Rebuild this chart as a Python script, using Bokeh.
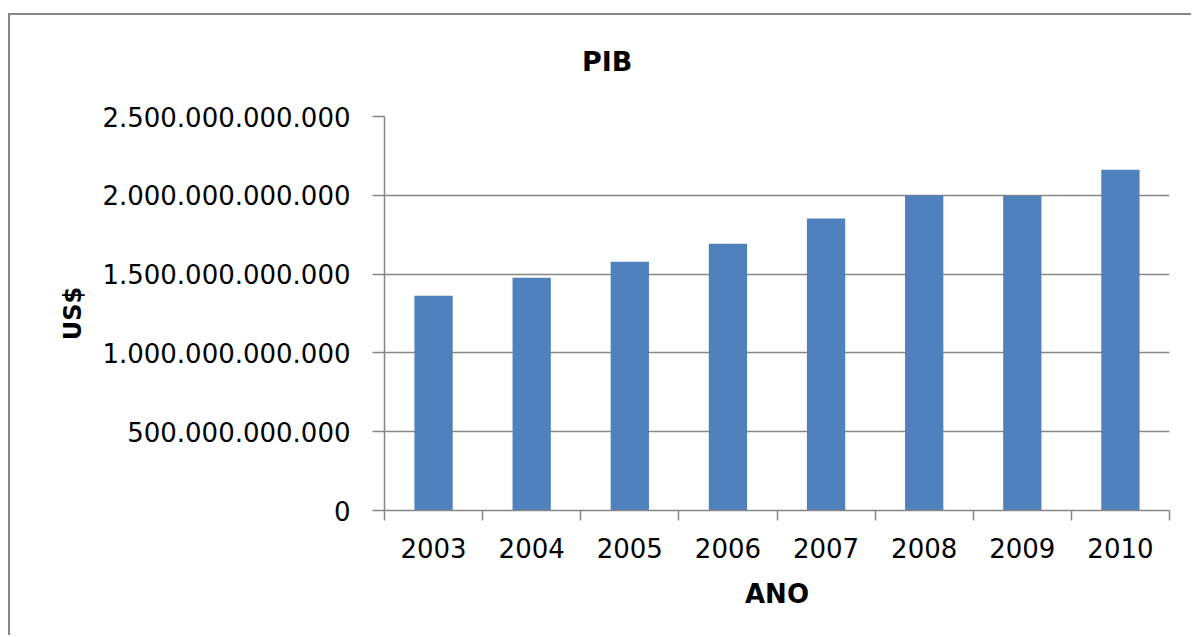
from bokeh.plotting import figure
from bokeh.models import FixedTicker, Range1d, LinearAxis
from bokeh.embed import file_html
from bokeh.resources import INLINE

# ---- data ----
title_text = "PIB"
years = ["2003", "2004", "2005", "2006", "2007", "2008", "2009", "2010"]
pib = [1.363e12, 1.477e12, 1.579e12, 1.693e12, 1.852e12, 1.998e12, 1.995e12, 2.162e12]
y_ticks = [0, 500000000000, 1000000000000, 1500000000000, 2000000000000, 2500000000000]
y_tick_labels = [f"{v:,}".replace(",", ".") for v in y_ticks]

GRAY = "#868686"
BAR = "#4F81BD"
FONT = "DejaVu Sans"

centers = [i + 0.5 for i in range(len(years))]
bounds = list(range(len(years) + 1))
title_pos = 2.27  # horizontal position of the chart title (chart-area centre)

p = figure(
    width=1183, height=622,
    output_backend="svg", toolbar_location=None,
    x_range=Range1d(0, len(years)), y_range=Range1d(0, y_ticks[-1]),
    min_border_left=374, min_border_right=24, min_border_top=101, min_border_bottom=127,
)
p.styles = {
    "border-left": "2px solid #878787",
    "border-top": "2px solid #878787",
    "margin-left": "8px",
    "margin-top": "13px",
}

p.vbar(x=centers, top=pib, width=0.39, bottom=0, fill_color=BAR, line_color=None)

xa = p.below[0]
ya = p.left[0]

# x axis
xa.ticker = FixedTicker(ticks=centers, minor_ticks=bounds)
xa.major_label_overrides = {c: y for c, y in zip(centers, years)}
xa.major_tick_out = 0
xa.major_tick_in = 0
xa.minor_tick_out = 10
xa.minor_tick_in = 0
xa.minor_tick_line_color = GRAY
xa.minor_tick_line_width = 1.5
xa.axis_line_color = GRAY
xa.axis_line_width = 1.5
xa.major_label_text_font = FONT
xa.major_label_text_font_size = "26px"
xa.major_label_text_color = "black"
xa.major_label_standoff = 17
xa.axis_label = "ANO"
xa.axis_label_text_font = FONT
xa.axis_label_text_font_size = "26px"
xa.axis_label_text_font_style = "bold"
xa.axis_label_text_color = "black"
xa.axis_label_standoff = 18

# y axis
ya.ticker = FixedTicker(ticks=y_ticks, minor_ticks=[])
ya.major_label_overrides = {t: l for t, l in zip(y_ticks, y_tick_labels)}
ya.major_tick_out = 12
ya.major_tick_in = 0
ya.major_tick_line_color = GRAY
ya.major_tick_line_width = 1.5
ya.minor_tick_line_color = None
ya.axis_line_color = GRAY
ya.axis_line_width = 1.5
ya.major_label_text_font = FONT
ya.major_label_text_font_size = "26px"
ya.major_label_text_color = "black"
ya.major_label_standoff = 22
ya.axis_label = "US$"
ya.axis_label_text_font = FONT
ya.axis_label_text_font_size = "24px"
ya.axis_label_text_font_style = "bold"
ya.axis_label_text_color = "black"
ya.axis_label_standoff = 12

# chart title drawn as the single label of an invisible axis above the frame
ta = LinearAxis(ticker=FixedTicker(ticks=[title_pos], minor_ticks=[]))
ta.major_label_overrides = {title_pos: title_text}
ta.axis_line_color = None
ta.major_tick_line_color = None
ta.minor_tick_line_color = None
ta.major_tick_out = 0
ta.major_tick_in = 0
ta.major_label_text_font = FONT
ta.major_label_text_font_size = "27px"
ta.major_label_text_font_style = "bold"
ta.major_label_text_color = "black"
ta.major_label_standoff = 40
p.add_layout(ta, "above")

p.xgrid.visible = False
p.ygrid.grid_line_color = GRAY
p.ygrid.grid_line_width = 1.5
p.outline_line_color = None
p.background_fill_color = "white"
p.border_fill_color = "white"

open("out.html", "w").write(file_html(p, INLINE))
